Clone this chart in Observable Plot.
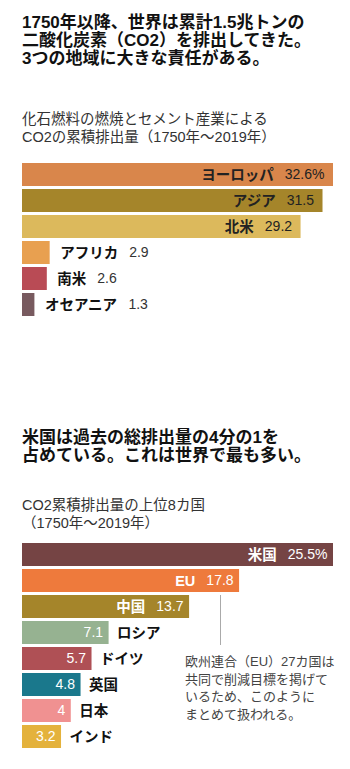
<!DOCTYPE html>
<html><head><meta charset="utf-8">
<script src="https://cdn.jsdelivr.net/npm/d3@7"></script>
<script src="https://cdn.jsdelivr.net/npm/@observablehq/plot@0.6"></script>
<style>
body{margin:0;background:#fff;}
#root{position:relative;width:350px;height:769px;font-family:"Liberation Sans","Noto Sans CJK JP",sans-serif;color:#111;overflow:hidden;}
.t{position:absolute;left:22px;font-weight:bold;font-size:17px;line-height:17.8px;color:#111;white-space:nowrap;}
.s{position:absolute;left:22px;font-size:14.5px;line-height:18px;color:#333;white-space:nowrap;}
.c{position:absolute;left:0;}
.note{position:absolute;left:185px;font-size:13px;line-height:17.6px;color:#444;white-space:nowrap;}
.leader{position:absolute;left:220px;width:1px;background:#aaa;}
</style></head>
<body><div id="root">
<div class="t" style="top:14px">1750年以降、世界は累計1.5兆トンの<br>二酸化炭素（CO2）を排出してきた。<br>3つの地域に大きな責任がある。</div>
<div class="s" style="top:110px">化石燃料の燃焼とセメント産業による<br>CO2の累積排出量（1750年～2019年）</div>
<div class="c" id="chart1" style="top:150px"></div>
<div class="t" style="top:429px">米国は過去の総排出量の4分の1を<br>占めている。これは世界で最も多い。</div>
<div class="s" style="top:496px">CO2累積排出量の上位8カ国<br>（1750年～2019年）</div>
<div class="c" id="chart2" style="top:530px"></div>
<div class="leader" style="top:595px;height:50px"></div>
<div class="note" style="top:653px">欧州連合（EU）27カ国は<br>共同で削減目標を掲げて<br>いるため、このように<br>まとめて扱われる。</div>
</div>
<script>
const regionNames = ["ヨーロッパ","アジア","北米","アフリカ","南米","オセアニア"];
const regionShares = [32.6,31.5,29.2,2.9,2.6,1.3];
const regionValueLabels = ["32.6%","31.5","29.2","2.9","2.6","1.3"];
const regionColors = ["#d9864b","#a5852a","#dcb95c","#e8a050","#b94b55","#785a5f"];

const countryNames = ["米国","EU","中国","ロシア","ドイツ","英国","日本","インド"];
const countryShares = [25.5,17.8,13.7,7.1,5.7,4.8,4,3.2];
const countryValueLabels = ["25.5%","17.8","13.7","7.1","5.7","4.8","4","3.2"];
const countryColors = ["#754444","#ee7a3c","#a5852a","#96b291","#af5055","#1a788c","#f09191","#e4b23c"];

const FONT = '"Liberation Sans","Noto Sans CJK JP",sans-serif';
const ctx = document.createElement("canvas").getContext("2d");
function textWidth(s, size, weight) {
  ctx.font = `${weight} ${size}px ${FONT}`;
  return ctx.measureText(s).width;
}
const NAME_SIZE = 14.5, VALUE_SIZE = 14, GAP = 11;

function barChart(names, shares, labels, colors, opts) {
  const rows = names.map((n, i) => ({name: n, v: shares[i], label: labels[i], color: colors[i]}));
  const marks = [Plot.barX(rows, {x: "v", y: "name", fill: "color"})];
  for (const r of rows) {
    const big = r.v > 10;
    const wVal = textWidth(r.label, VALUE_SIZE, "normal");
    const wName = textWidth(r.name, NAME_SIZE, "bold");
    if (big) {
      marks.push(Plot.text([r], {x: "v", y: "name", text: "label", textAnchor: "end", dx: -opts.padIn, fill: opts.inColor, fontSize: VALUE_SIZE}));
      marks.push(Plot.text([r], {x: "v", y: "name", text: "name", textAnchor: "end", dx: -(opts.padIn + wVal + GAP), fill: opts.inColor, fontSize: NAME_SIZE, fontWeight: "bold"}));
    } else if (opts.valueInside) {
      marks.push(Plot.text([r], {x: "v", y: "name", text: "label", textAnchor: "end", dx: -opts.padIn, fill: opts.inColor, fontSize: VALUE_SIZE}));
      marks.push(Plot.text([r], {x: "v", y: "name", text: "name", textAnchor: "start", dx: opts.padOut, fill: "#111", fontSize: NAME_SIZE, fontWeight: "bold"}));
    } else {
      marks.push(Plot.text([r], {x: "v", y: "name", text: "name", textAnchor: "start", dx: opts.padOut, fill: "#111", fontSize: NAME_SIZE, fontWeight: "bold"}));
      marks.push(Plot.text([r], {x: "v", y: "name", text: "label", textAnchor: "start", dx: opts.padOut + wName + GAP, fill: "#333", fontSize: VALUE_SIZE}));
    }
  }
  return Plot.plot({
    width: 350, height: opts.height,
    marginLeft: 22, marginRight: 17, marginTop: opts.marginTop, marginBottom: opts.marginBottom,
    x: {domain: [0, d3.max(shares)], axis: null},
    y: {domain: names, axis: null, paddingInner: 0.1, paddingOuter: 0.05},
    color: {type: "identity"},
    style: {fontFamily: FONT, background: "transparent", overflow: "visible"},
    marks
  });
}

document.getElementById("chart1").append(barChart(regionNames, regionShares, regionValueLabels, regionColors,
  {height: 180, marginTop: 9.3, marginBottom: 10.7, padIn: 9, padOut: 10, inColor: "#222", valueInside: false}));
document.getElementById("chart2").append(barChart(countryNames, countryShares, countryValueLabels, countryColors,
  {height: 233, marginTop: 8, marginBottom: 10.6, padIn: 6, padOut: 8, inColor: "#fff", valueInside: true}));
</script>
</body></html>
